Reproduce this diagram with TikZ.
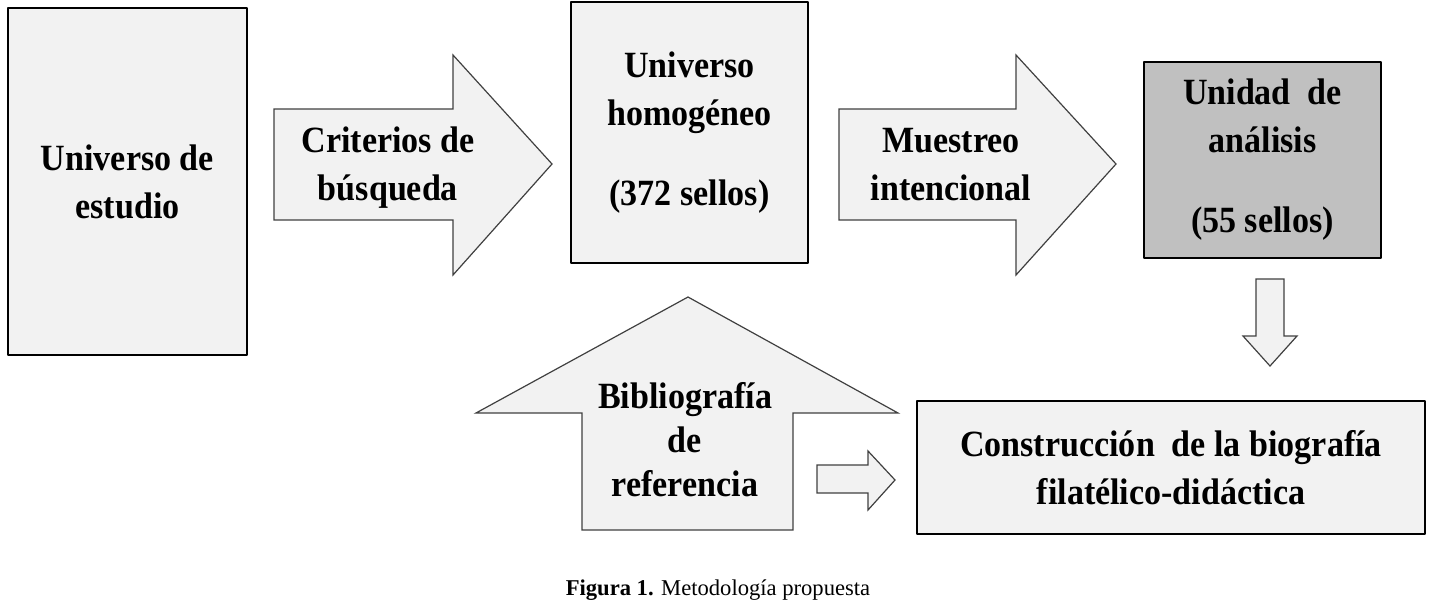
\documentclass[tikz,border=0pt]{standalone}
\usepackage{fontspec}
\setmainfont{Liberation Serif}
\newfontfamily\narrowserif[FakeStretch=0.92]{Liberation Serif}
\definecolor{boxfill}{HTML}{F2F2F2}
\definecolor{unitfill}{HTML}{C0C0C0}
\tikzset{
	bigtext/.style={font=\narrowserif\fontsize{18.5pt}{24pt}\selectfont\bfseries,align=center},
	stagebox/.style={draw=black,line width=1.3pt,fill=boxfill,inner sep=0pt,bigtext},
	blockarrow/.style={draw=black!75,line width=0.6pt,fill=boxfill,line join=miter}
}
\begin{document}
\begin{tikzpicture}[line cap=round,line join=round,x=0.5pt,y=-0.5pt]
	\useasboundingbox (0,0) rectangle (1445,605);
	% boxes
	\node[stagebox,minimum width=119.5pt,minimum height=173.5pt] (estudio) at (127.5,181.5) {Universo de\\estudio};
	\node[stagebox,minimum width=118.5pt,minimum height=130.5pt] (homog) at (689.5,132.5) {Universo\\homogéneo\\[16pt](372 sellos)};
	\node[stagebox,fill=unitfill,minimum width=118.5pt,minimum height=98pt] (unidad) at (1262.5,160) {Unidad\ \ de\\análisis\\[16pt](55 sellos)};
	\node[stagebox,minimum width=254pt,minimum height=66.5pt] (biog) at (1171,467.5) {Construcción\ \ de la biografía\\filatélico-didáctica};
	% block arrows
	\draw[blockarrow] (274,109) -- (453,109) -- (453,55) -- (552,164) -- (453,275) -- (453,220) -- (274,220) -- cycle;
	\draw[blockarrow] (839,109) -- (1016,109) -- (1016,55) -- (1116,164) -- (1016,275) -- (1016,220) -- (839,220) -- cycle;
	\draw[blockarrow] (582,530) -- (582,413) -- (476,413) -- (688,297) -- (898,413) -- (793,413) -- (793,530) -- cycle;
	\draw[blockarrow] (817,465) -- (868,465) -- (868,451) -- (895,480) -- (868,510) -- (868,493) -- (817,493) -- cycle;
	\draw[blockarrow] (1256,279) -- (1284,279) -- (1284,336) -- (1297,336) -- (1270,366) -- (1243,336) -- (1256,336) -- cycle;
	% arrow labels
	\node[bigtext] (criterios) at (388,167.5) {Criterios de\\búsqueda};
	\node[bigtext] (muestreo) at (951,165) {Muestreo\\intencional};
	\node[bigtext,font=\narrowserif\fontsize{18.5pt}{22pt}\selectfont\bfseries] (biblio) at (685,440) {Bibliografía\\de\\referencia};
	% caption
	\node (caption) at (718,590) {\fontsize{11.3pt}{13pt}\selectfont\textbf{Figura 1.} Metodología propuesta};
\end{tikzpicture}
\end{document}
